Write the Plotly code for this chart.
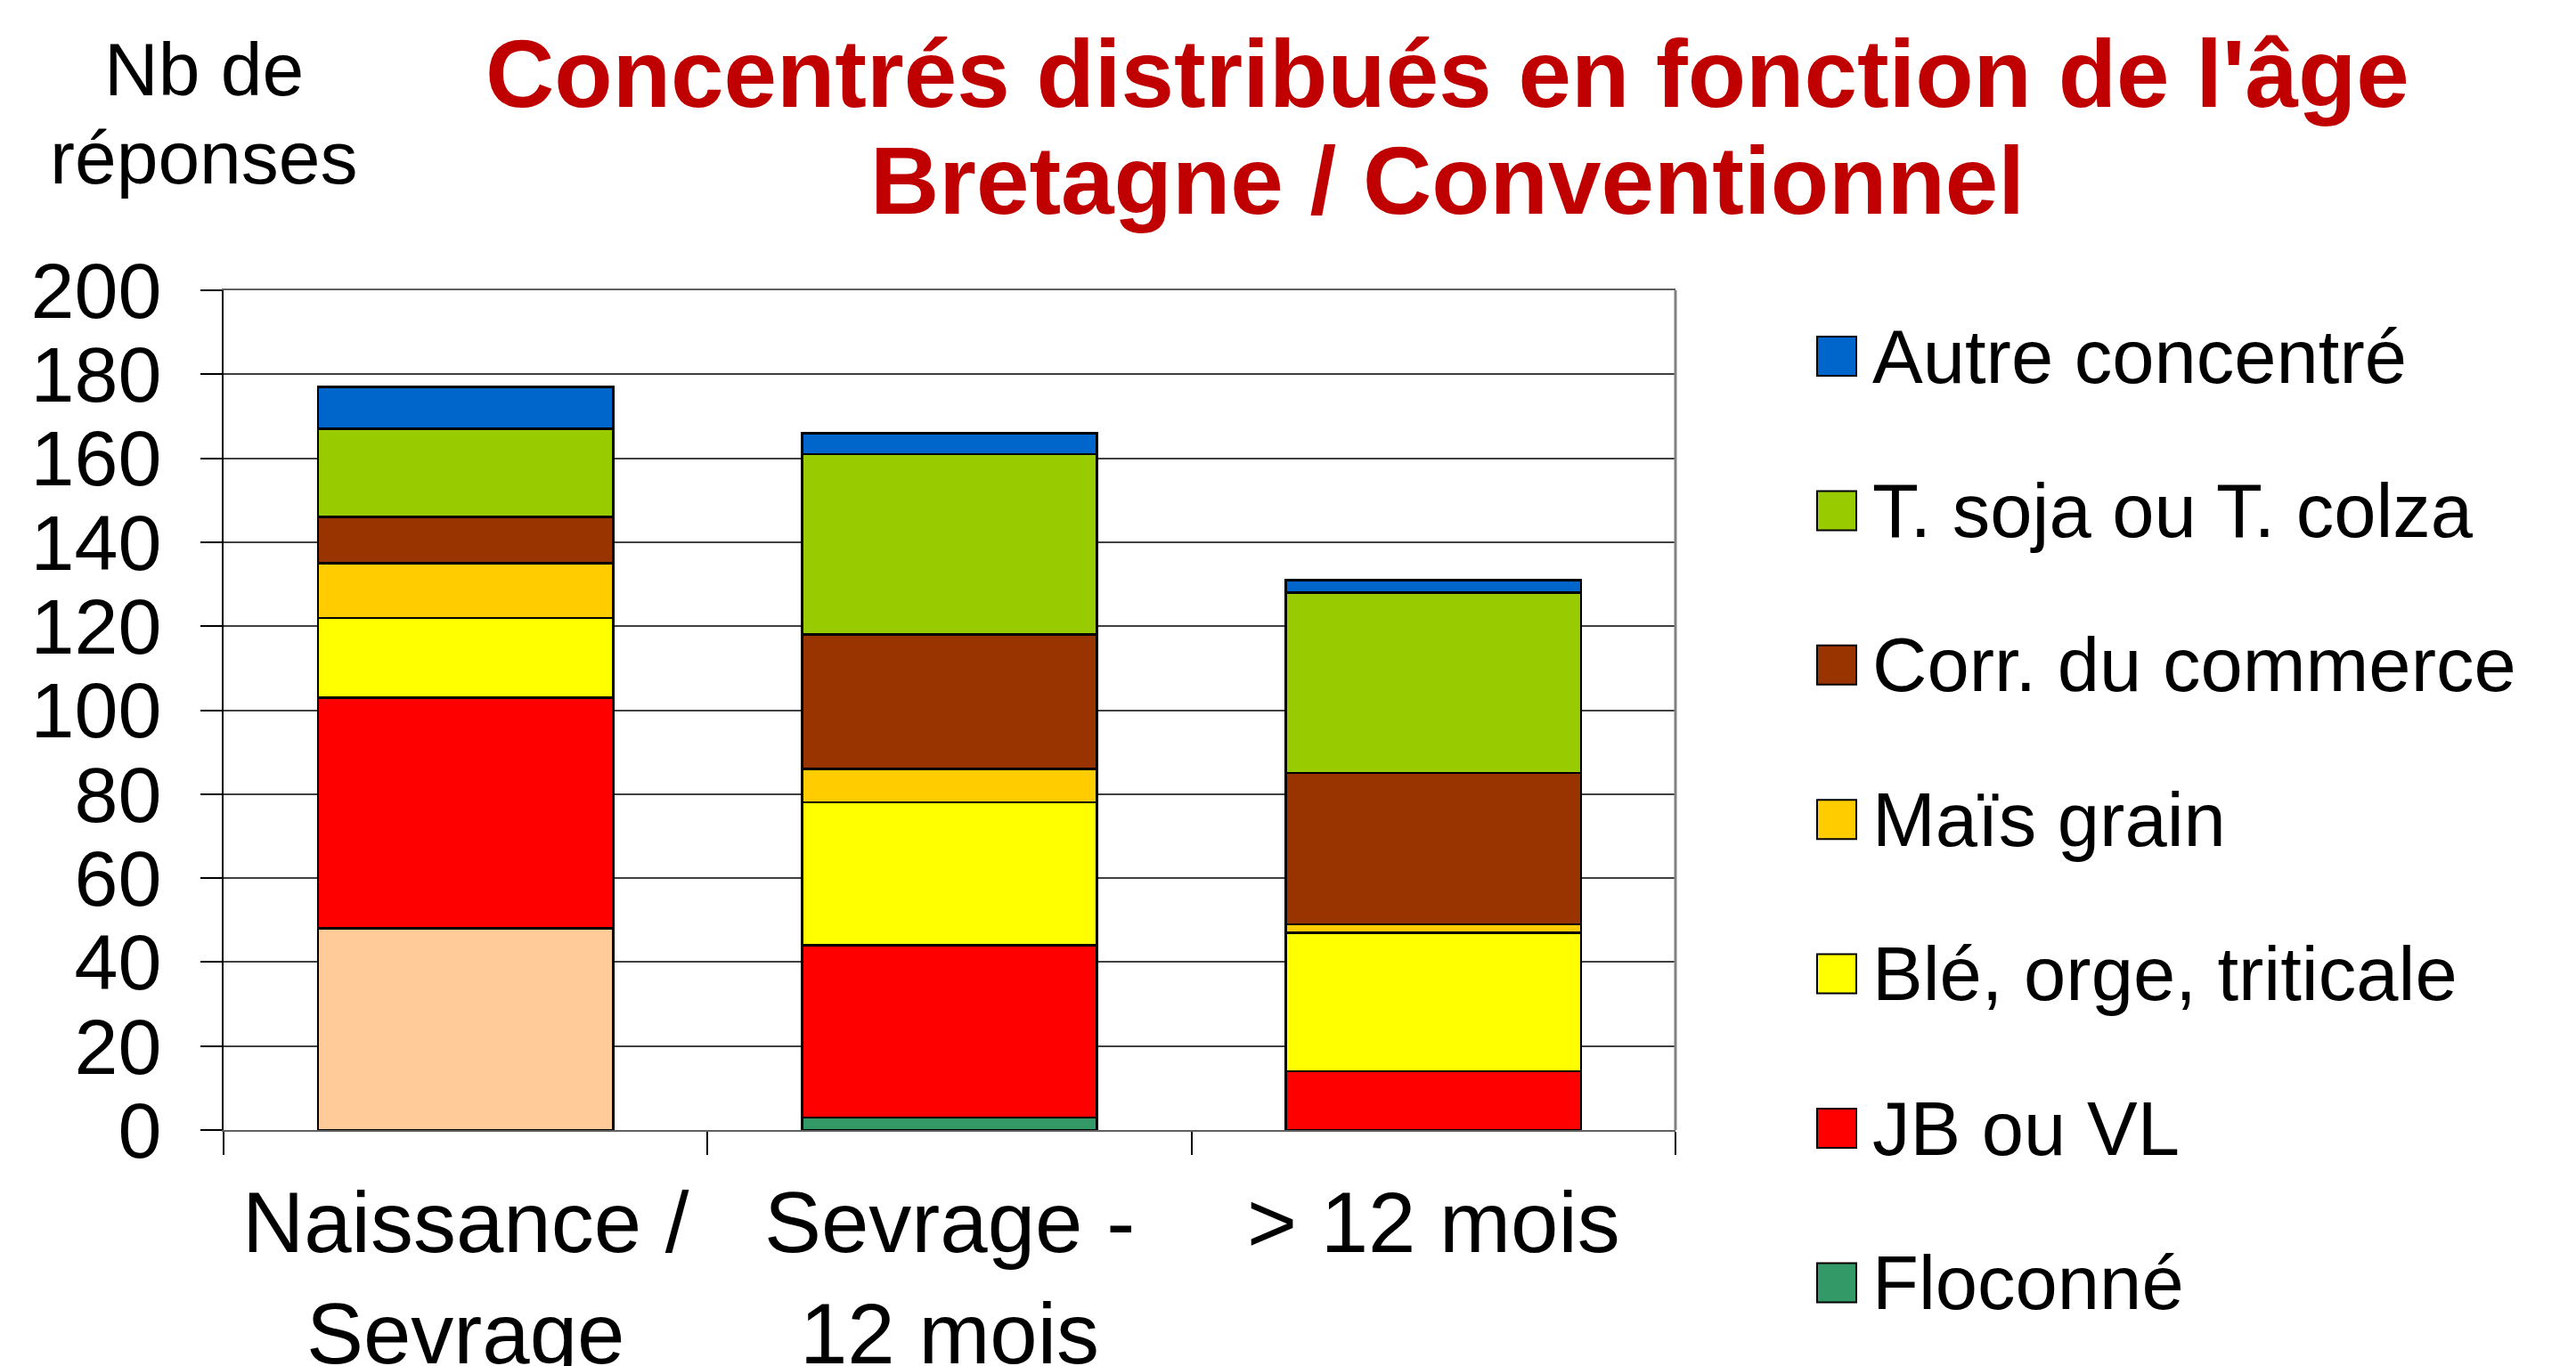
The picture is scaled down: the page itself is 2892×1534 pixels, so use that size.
import plotly.graph_objects as go

W, H = 2892, 1534
FONT = "Liberation Sans, Arial, sans-serif"
OFF = 8  # the page body adds 8px around the figure

# categories (x axis)
ages = ["Naissance /<br>Sevrage", "Sevrage -<br>12 mois", "> 12 mois"]

# series, stacked from bottom to top
aliment_1er_age = [48, None, None]
floconne = [None, 3, None]
jb_vl = [55, 41, 14]
ble_orge = [19, 34, 33]
mais_grain = [13, 8, 2]
corr_commerce = [11, 32, 36]
tourteau = [21, 43, 43]
autre = [10, 5, 3]

series = [
    ("Aliment 1er âge", aliment_1er_age, "#FFCC99", False),
    ("Floconné", floconne, "#339966", True),
    ("JB ou VL", jb_vl, "#FF0000", True),
    ("Blé, orge, triticale", ble_orge, "#FFFF00", True),
    ("Maïs grain", mais_grain, "#FFCC00", True),
    ("Corr. du commerce", corr_commerce, "#993300", True),
    ("T. soja ou T. colza", tourteau, "#99CC00", True),
    ("Autre concentré", autre, "#0066CC", True),
]

# plot area in pixels (screen coords)
L, R, T, B = 251, 1011, 326, 265
PW, PH = W - L - R, H - T - B


def px_x(x):
    return (x - L) / PW


def px_y(y):
    return (H - B - y) / PH


fig = go.Figure()
for name, vals, color, inleg in series:
    fig.add_trace(go.Bar(
        x=ages, y=vals, name=name,
        marker=dict(color=color, line=dict(color="black", width=2.5)),
        showlegend=False,
    ))

# legend drawn by hand so the squares can be large (top item = last series)
shapes = []
annotations = []
leg_items = [s for s in series if s[3]][::-1]
for i, (name, vals, color, inleg) in enumerate(leg_items):
    cy = 400 + i * 173.4
    shapes.append(dict(
        type="rect", xref="paper", yref="paper",
        x0=px_x(2040), x1=px_x(2084), y0=px_y(cy - 22), y1=px_y(cy + 22),
        fillcolor=color, line=dict(color="black", width=2),
    ))
    annotations.append(dict(
        text=name, xref="paper", yref="paper", x=px_x(2100), y=px_y(cy),
        xanchor="left", yanchor="middle", showarrow=False,
        font=dict(family=FONT, size=85, color="black"),
    ))

# right border of the plot area
shapes.append(dict(type="line", xref="paper", yref="paper", x0=1, x1=1, y0=0, y1=1,
                   line=dict(color="#808080", width=3)))

# title, two lines
for txt, cy in [("Concentrés distribués en fonction de l'âge", 83),
                ("Bretagne / Conventionnel", 203)]:
    annotations.append(dict(
        text="<b>" + txt + "</b>", xref="paper", yref="paper", x=px_x(1625), y=px_y(cy),
        xanchor="center", yanchor="middle", showarrow=False,
        font=dict(family=FONT, size=107, color="#C00000"),
    ))

# y axis title
for txt, cy in [("Nb de", 78), ("réponses", 177)]:
    annotations.append(dict(
        text=txt, xref="paper", yref="paper", x=px_x(229), y=px_y(cy),
        xanchor="center", yanchor="middle", showarrow=False,
        font=dict(family=FONT, size=84, color="black"),
    ))

fig.update_layout(
    barmode="stack",
    bargap=0.39,
    width=W, height=H, autosize=False,
    margin=dict(l=L - OFF, r=R + OFF, t=T - OFF, b=B + OFF),
    paper_bgcolor="white", plot_bgcolor="white",
    font=dict(family=FONT, color="black"),
    shapes=shapes,
    annotations=annotations,
    showlegend=False,
)
fig.update_xaxes(
    tickfont=dict(size=96), ticks="outside", tickson="boundaries", ticklen=26,
    tickcolor="black", tickwidth=1.5, ticklabelstandoff=20,
    showline=True, linecolor="#606060", linewidth=2, mirror=True,
    showgrid=False, automargin=False,
)
fig.update_yaxes(
    range=[0, 200], dtick=20, tickfont=dict(size=88), ticks="outside", ticklen=24,
    tickcolor="black", tickwidth=1.5, ticklabelstandoff=26,
    showline=True, linecolor="black", linewidth=2,
    showgrid=True, gridcolor="#404040", gridwidth=1.5,
    zeroline=False, automargin=False,
)

fig.write_html("out.html")
